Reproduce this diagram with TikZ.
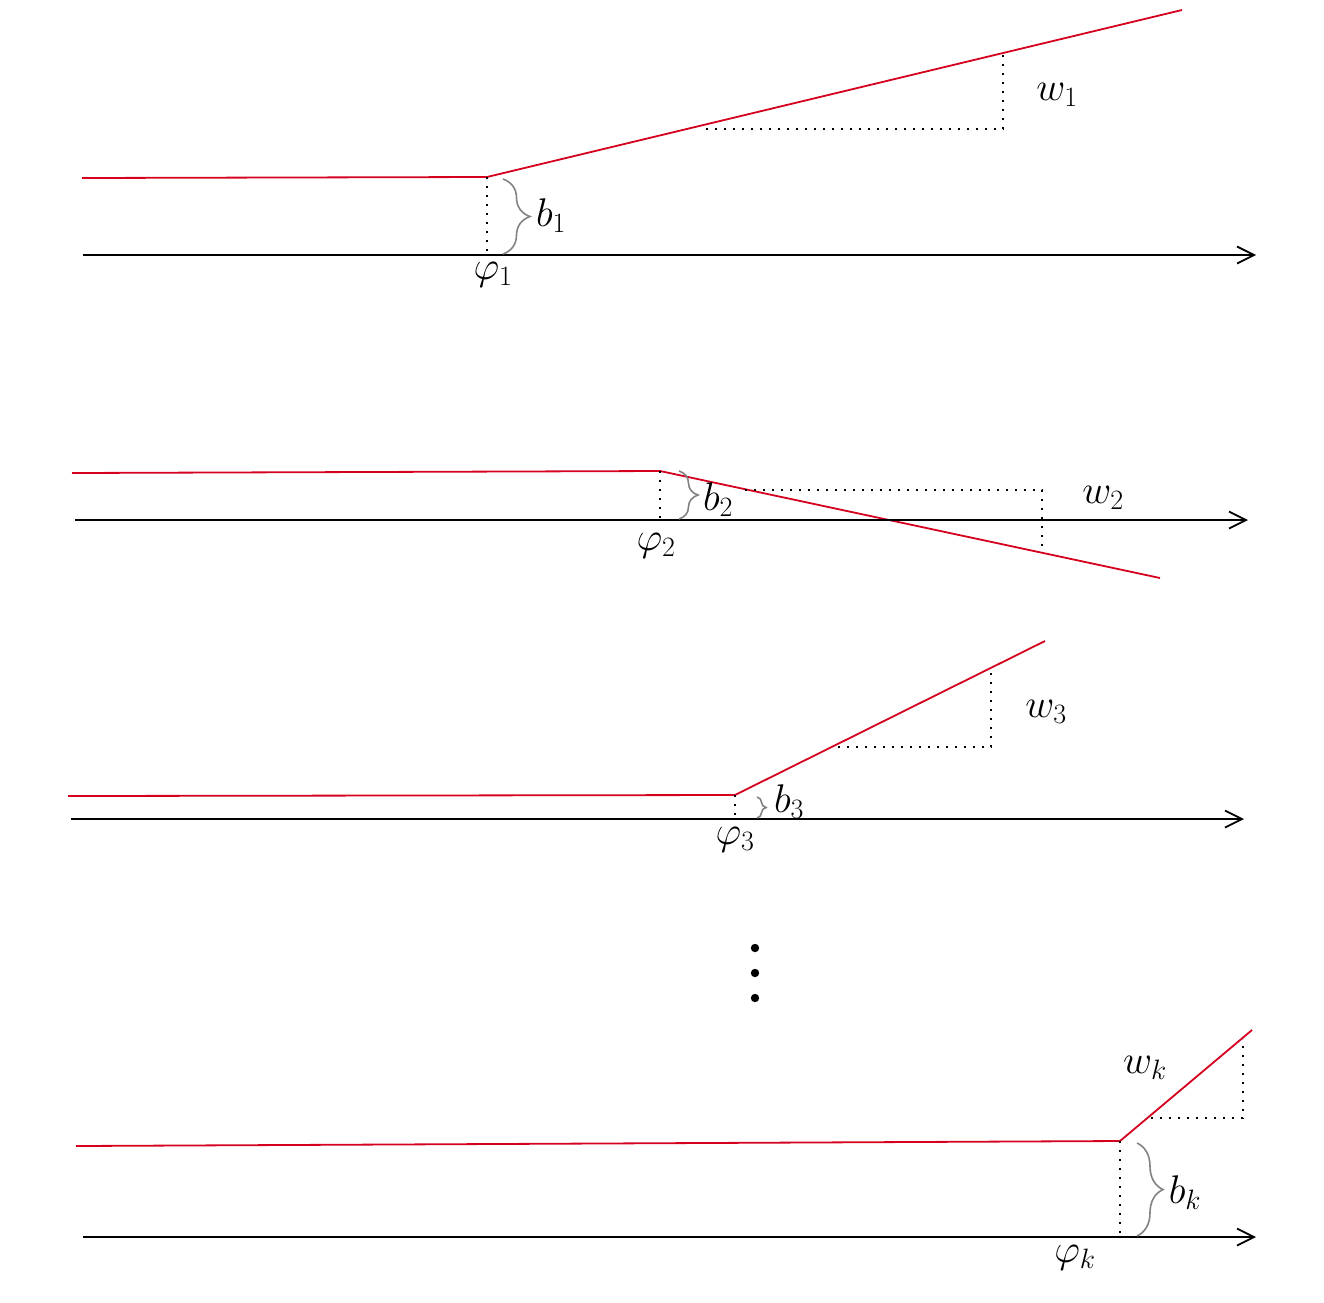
\RequirePackage{fix-cm}
\documentclass[tikz,border=0pt]{standalone}
\usetikzlibrary{arrows.meta,decorations.pathreplacing}
\definecolor{rd}{RGB}{212,0,30}
\definecolor{gr}{RGB}{130,130,130}
\tikzset{
  redline/.style={draw=rd,line width=1.8pt},
  axisline/.style={draw=black,line width=1.8pt,-{Straight Barb[length=17pt,width=17pt,line width=1.8pt]}},
  dotline/.style={draw=black,line width=2.2pt,dash pattern=on 2.2pt off 6.8pt},
  bracestyle/.style={draw=gr,line width=1.6pt,decorate,decoration={brace,amplitude=#1}},
  lbl/.style={inner sep=0pt,font=\fontsize{40}{46}\selectfont},
  dotmark/.style={fill=black}
}
\begin{document}
\begin{tikzpicture}[x=1pt,y=-1pt]
\useasboundingbox (0,0) rectangle (1324,1302);
% ---------- panel 1
\coordinate (r1s) at (82,178);
\coordinate (k1) at (487,177);
\coordinate (r1e) at (1182,10);
\coordinate (a1s) at (83,255);
\coordinate (a1e) at (1256,255);
\coordinate (f1) at (487,255);
\coordinate (t1a) at (706,129);
\coordinate (t1b) at (1003,129);
\coordinate (t1c) at (1003,53);
\coordinate (br1a) at (503,179);
\coordinate (br1b) at (503,254);
\draw[redline] (r1s) -- (k1) -- (r1e);
\draw[axisline] (a1s) -- (a1e);
\draw[dotline] (k1) -- (f1);
\draw[dotline] (t1a) -- (t1b) -- (t1c);
\draw[bracestyle=27pt] (br1a) -- (br1b);
\node[lbl] (b1) at (551,216) {$b_1$};
\node[lbl] (phi1) at (493,275) {$\varphi_1$};
\node[lbl] (w1) at (1057,95) {$w_1$};
% ---------- panel 2
\coordinate (r2s) at (72,473);
\coordinate (k2) at (660,471);
\coordinate (r2e) at (1160,578);
\coordinate (a2s) at (75,520);
\coordinate (a2e) at (1248,520);
\coordinate (f2) at (660,520);
\coordinate (t2a) at (745,490);
\coordinate (t2b) at (1042,490);
\coordinate (t2c) at (1042,552);
\coordinate (br2a) at (679,471);
\coordinate (br2b) at (679,519);
\draw[redline] (r2s) -- (k2) -- (r2e);
\draw[axisline] (a2s) -- (a2e);
\draw[dotline] (k2) -- (f2);
\draw[dotline] (t2a) -- (t2b) -- (t2c);
\draw[bracestyle=19pt] (br2a) -- (br2b);
\node[lbl] (b2) at (718,500) {$b_2$};
\node[lbl] (phi2) at (656,546) {$\varphi_2$};
\node[lbl] (w2) at (1103,498) {$w_2$};
% ---------- panel 3
\coordinate (r3s) at (68,796);
\coordinate (k3) at (735,795);
\coordinate (r3e) at (1045,641);
\coordinate (a3s) at (71,819);
\coordinate (a3e) at (1244,819);
\coordinate (f3) at (735,819);
\coordinate (t3a) at (838,747);
\coordinate (t3b) at (991,747);
\coordinate (t3c) at (991,668);
\coordinate (br3a) at (757,797);
\coordinate (br3b) at (757,818);
\draw[redline] (r3s) -- (k3) -- (r3e);
\draw[axisline] (a3s) -- (a3e);
\draw[dotline] (k3) -- (f3);
\draw[dotline] (t3a) -- (t3b) -- (t3c);
\draw[bracestyle=9pt] (br3a) -- (br3b);
\node[lbl] (b3) at (789,802) {$b_3$};
\node[lbl] (phi3) at (735,840) {$\varphi_3$};
\node[lbl] (w3) at (1046,712) {$w_3$};
% ---------- vertical dots
\fill[dotmark] (755,948) circle (4.2pt);
\fill[dotmark] (755,973) circle (4.2pt);
\fill[dotmark] (755,998) circle (4.2pt);
% ---------- panel k
\coordinate (rks) at (76,1146);
\coordinate (kk) at (1120,1141);
\coordinate (rke) at (1252,1030);
\coordinate (aks) at (83,1237);
\coordinate (ake) at (1256,1237);
\coordinate (fk) at (1120,1237);
\coordinate (tka) at (1151,1118);
\coordinate (tkb) at (1243,1118);
\coordinate (tkc) at (1243,1039);
\coordinate (brka) at (1137,1143);
\coordinate (brkb) at (1137,1236);
\draw[redline] (rks) -- (kk) -- (rke);
\draw[axisline] (aks) -- (ake);
\draw[dotline] (kk) -- (fk);
\draw[dotline] (tka) -- (tkb) -- (tkc);
\draw[bracestyle=26pt] (brka) -- (brkb);
\node[lbl] (bk) at (1185,1193) {$b_k$};
\node[lbl] (phik) at (1075,1258) {$\varphi_k$};
\node[lbl] (wk) at (1145,1068) {$w_k$};
\end{tikzpicture}
\end{document}
